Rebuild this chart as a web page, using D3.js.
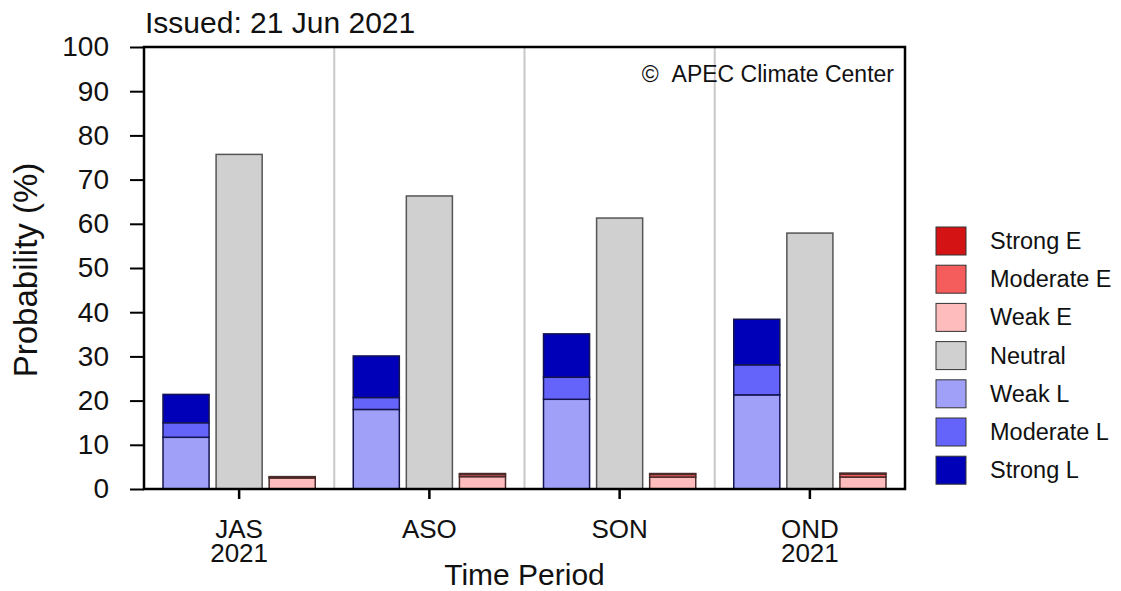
<!DOCTYPE html>
<html>
<head>
<meta charset="utf-8">
<script src="https://cdn.jsdelivr.net/npm/d3@7"></script>
<style>
  body { margin: 0; background: #fff; }
  text { font-family: "Liberation Sans", Arial, sans-serif; fill: #111; }
</style>
</head>
<body>
<svg id="chart" width="1121" height="591"></svg>
<script>
// data
var periods = ['JAS', 'ASO', 'SON', 'OND'];
var periodYears = ['2021', '', '', '2021'];
var weakL = [11.7, 18.0, 20.3, 21.3];
var moderateL = [3.3, 2.7, 5.0, 6.8];
var strongL = [6.4, 9.4, 9.8, 10.3];
var neutral = [75.7, 66.3, 61.3, 57.9];
var weakE = [2.5, 2.8, 2.7, 2.7];
var moderateE = [0.2, 0.5, 0.6, 0.7];
var strongE = [0.1, 0.2, 0.2, 0.2];
var yTicks = [0, 10, 20, 30, 40, 50, 60, 70, 80, 90, 100];

var legendNames = ['Strong E', 'Moderate E', 'Weak E', 'Neutral', 'Weak L', 'Moderate L', 'Strong L'];
var colors = {
  'Strong E': '#d41414', 'Moderate E': '#f55c5c', 'Weak E': '#ffbcbc',
  'Neutral': '#d0d0d0',
  'Weak L': '#a0a0f8', 'Moderate L': '#6464fa', 'Strong L': '#0000b8'
};

var svg = d3.select('#chart');
var margin = {left: 144, right: 216, top: 47, bottom: 102};
var width = 1121 - margin.left - margin.right;
var height = 591 - margin.top - margin.bottom;

var g = svg.append('g').attr('transform', 'translate(' + margin.left + ',' + margin.top + ')');

var x = d3.scaleBand().domain(periods).range([0, width]);
var y = d3.scaleLinear().domain([0, 100]).range([height, 0]);
var sub = d3.scaleBand().domain(['L', 'N', 'E']).range([0, x.bandwidth()]).paddingInner(0.132).paddingOuter(0.358);

// group separators
g.selectAll('line.sep')
  .data(periods.slice(1))
  .enter().append('line')
  .attr('class', 'sep')
  .attr('x1', function(d) { return x(d); })
  .attr('x2', function(d) { return x(d); })
  .attr('y1', 0).attr('y2', height)
  .style('stroke', '#c8c8c8').style('stroke-width', 2);

// build stacked segments
var segs = [];
periods.forEach(function(p, i) {
  var lStack = [['Weak L', weakL[i]], ['Moderate L', moderateL[i]], ['Strong L', strongL[i]]];
  var eStack = [['Weak E', weakE[i]], ['Moderate E', moderateE[i]], ['Strong E', strongE[i]]];
  var base = 0;
  lStack.forEach(function(s) {
    segs.push({p: p, slot: 'L', name: s[0], y0: base, y1: base + s[1]});
    base += s[1];
  });
  segs.push({p: p, slot: 'N', name: 'Neutral', y0: 0, y1: neutral[i]});
  base = 0;
  eStack.forEach(function(s) {
    segs.push({p: p, slot: 'E', name: s[0], y0: base, y1: base + s[1]});
    base += s[1];
  });
});

g.selectAll('rect.seg')
  .data(segs)
  .enter().append('rect')
  .attr('class', 'seg')
  .attr('x', function(d) { return x(d.p) + sub(d.slot); })
  .attr('width', sub.bandwidth())
  .attr('y', function(d) { return y(d.y1); })
  .attr('height', function(d) { return y(d.y0) - y(d.y1); })
  .style('fill', function(d) { return colors[d.name]; })
  .style('stroke', function(d) {
    if (d.slot === 'N') return '#555';
    if (d.slot === 'E') return '#4a2a2a';
    return '#141450';
  })
  .style('stroke-width', 1.5);

// frame
g.append('rect')
  .attr('x', 0).attr('y', 0).attr('width', width).attr('height', height)
  .style('fill', 'none').style('stroke', '#000').style('stroke-width', 2.5);

// y axis
var yAxis = g.append('g')
  .call(d3.axisLeft(y).tickValues(yTicks).tickSize(14).tickPadding(21));
yAxis.select('.domain').remove();
yAxis.selectAll('.tick line').style('stroke', '#000').style('stroke-width', 2);
yAxis.selectAll('.tick text')
  .style('font-size', '28px')
  .style('font-family', '"Liberation Sans", Arial, sans-serif')
  .attr('fill', '#111');

// x axis
var xAxis = g.append('g')
  .attr('transform', 'translate(0,' + height + ')')
  .call(d3.axisBottom(x).tickSize(10).tickFormat(''));
xAxis.select('.domain').remove();
xAxis.selectAll('.tick line').style('stroke', '#000').style('stroke-width', 2.5);

periods.forEach(function(p, i) {
  var t = g.append('text')
    .attr('x', x(p) + x.bandwidth() / 2)
    .attr('y', height + 49)
    .attr('text-anchor', 'middle')
    .style('font-size', '26px');
  t.append('tspan').text(p);
  if (periodYears[i]) {
    t.append('tspan')
      .attr('x', x(p) + x.bandwidth() / 2)
      .attr('dy', 24)
      .text(periodYears[i]);
  }
});

// axis titles
svg.append('text')
  .attr('x', margin.left + width / 2)
  .attr('y', 585)
  .attr('text-anchor', 'middle')
  .style('font-size', '30px')
  .text('Time Period');

svg.append('text')
  .attr('transform', 'translate(37,' + (margin.top + height / 2 + 2) + ') rotate(-90)')
  .attr('text-anchor', 'middle')
  .style('font-size', '33px')
  .text('Probability (%)');

svg.append('text')
  .attr('x', 145).attr('y', 33)
  .style('font-size', '30px')
  .text('Issued: 21 Jun 2021');

svg.append('text')
  .attr('x', margin.left + width - 11).attr('y', 82)
  .attr('text-anchor', 'end')
  .style('font-size', '23px')
  .text('\u00A9\u00A0\u00A0APEC Climate Center');

// legend
var legend = svg.append('g').attr('transform', 'translate(936,227)');
var item = legend.selectAll('g.item')
  .data(legendNames)
  .enter().append('g')
  .attr('class', 'item')
  .attr('transform', function(d, i) { return 'translate(0,' + (i * 38.2) + ')'; });

item.append('rect')
  .attr('width', 30).attr('height', 28)
  .style('fill', function(d) { return colors[d]; })
  .style('stroke', '#333').style('stroke-width', 1);

item.append('text')
  .attr('x', 54).attr('y', 22)
  .style('font-size', '23.5px')
  .text(function(d) { return d; });
</script>
</body>
</html>
